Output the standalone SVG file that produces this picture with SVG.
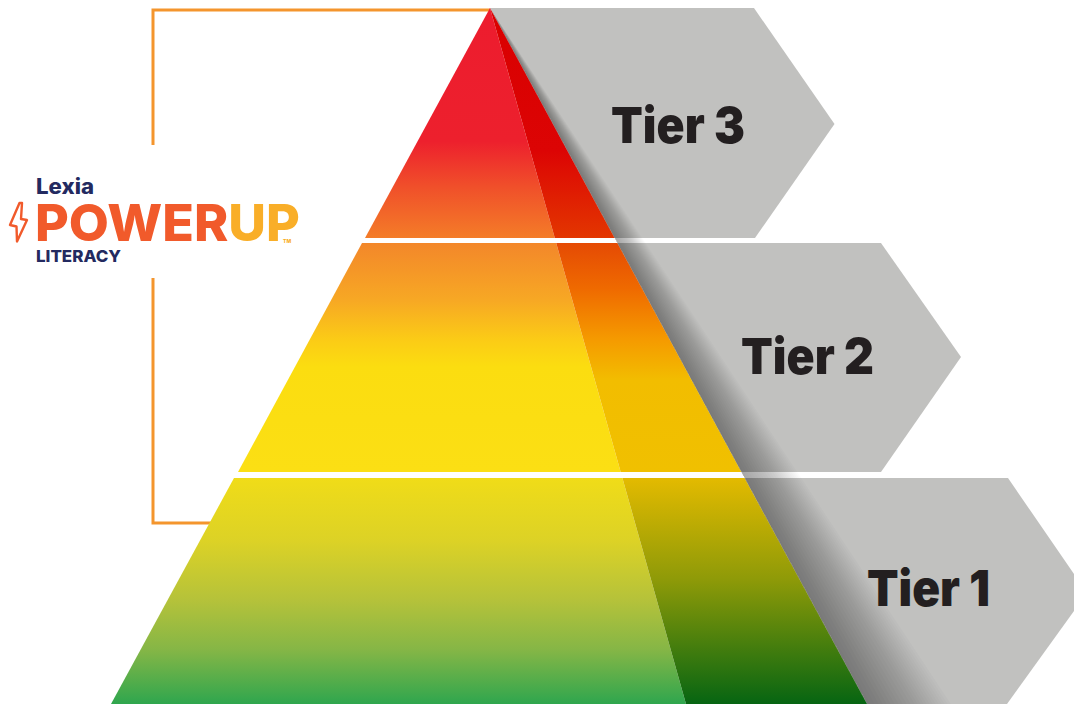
<svg xmlns="http://www.w3.org/2000/svg" width="1074" height="704" viewBox="0 0 1074 704">
<style>
.gray{fill:#c1c1bf}
.sh{fill:#000;fill-opacity:.016}
.tier{font-family:Inter,"Liberation Sans",sans-serif;font-weight:900;font-size:50px;fill:#231f20}
.logo{font-family:Inter,"Liberation Sans",sans-serif;font-weight:800}
.br{fill:none;stroke:#f4952d;stroke-width:3}
</style>
<defs>
<linearGradient id="a3" gradientUnits="userSpaceOnUse" x1="0" y1="8" x2="0" y2="238"><stop offset="0" stop-color="#ed1c2e"/><stop offset=".58" stop-color="#ed202d"/><stop offset=".78" stop-color="#f0502a"/><stop offset="1" stop-color="#f47c28"/></linearGradient>
<linearGradient id="d3" gradientUnits="userSpaceOnUse" x1="0" y1="8" x2="0" y2="238"><stop offset="0" stop-color="#d90000"/><stop offset=".62" stop-color="#dc0404"/><stop offset="1" stop-color="#e33600"/></linearGradient>
<linearGradient id="a2" gradientUnits="userSpaceOnUse" x1="0" y1="243" x2="0" y2="472"><stop offset="0" stop-color="#f3872a"/><stop offset=".25" stop-color="#f7a824"/><stop offset=".42" stop-color="#fbcb16"/><stop offset=".54" stop-color="#fbdd10"/><stop offset="1" stop-color="#fbdf14"/></linearGradient>
<linearGradient id="d2" gradientUnits="userSpaceOnUse" x1="0" y1="243" x2="0" y2="472"><stop offset="0" stop-color="#e54a04"/><stop offset=".2" stop-color="#ef6a00"/><stop offset=".42" stop-color="#f59a00"/><stop offset=".6" stop-color="#f2bd00"/><stop offset="1" stop-color="#f0c000"/></linearGradient>
<linearGradient id="a1" gradientUnits="userSpaceOnUse" x1="0" y1="478" x2="0" y2="704"><stop offset="0" stop-color="#f0dc18"/><stop offset=".28" stop-color="#dcd226"/><stop offset=".54" stop-color="#b5c23a"/><stop offset=".76" stop-color="#85b646"/><stop offset="1" stop-color="#2fa64e"/></linearGradient>
<linearGradient id="d1" gradientUnits="userSpaceOnUse" x1="0" y1="478" x2="0" y2="704"><stop offset="0" stop-color="#e3ba00"/><stop offset=".45" stop-color="#8e9a08"/><stop offset="1" stop-color="#066512"/></linearGradient>
</defs>
<g id="bracket" class="connectors">
<path class="br" d="M490 10H153V145"/>
<path class="br" d="M153 278V523H215"/>
</g>
<g id="tier3"><polygon class="gray" points="490,8 754,8 834.500,124 755,238 610,238"/></g>
<g id="tier2"><polygon class="gray" points="612,243 881,243 961,357 881,472 738,472"/></g>
<g id="tier1"><polygon class="gray" points="740,478 1008,478 1087,593 1007,704 860,704"/></g>
<g id="shadow">
<polygon class="sh" points="490,8 867,704 871,704"/>
<polygon class="sh" points="490,8 867,704 875,704"/>
<polygon class="sh" points="490,8 867,704 879,704"/>
<polygon class="sh" points="490,8 867,704 883,704"/>
<polygon class="sh" points="490,8 867,704 887,704"/>
<polygon class="sh" points="490,8 867,704 891,704"/>
<polygon class="sh" points="490,8 867,704 895,704"/>
<polygon class="sh" points="490,8 867,704 899,704"/>
<polygon class="sh" points="490,8 867,704 903,704"/>
<polygon class="sh" points="490,8 867,704 907,704"/>
<polygon class="sh" points="490,8 867,704 911,704"/>
<polygon class="sh" points="490,8 867,704 915,704"/>
<polygon class="sh" points="490,8 867,704 918,704"/>
<polygon class="sh" points="490,8 867,704 921,704"/>
<polygon class="sh" points="490,8 867,704 924,704"/>
<polygon class="sh" points="490,8 867,704 927,704"/>
<polygon class="sh" points="490,8 867,704 930,704"/>
<polygon class="sh" points="490,8 867,704 933,704"/>
<polygon class="sh" points="490,8 867,704 936,704"/>
<polygon class="sh" points="490,8 867,704 939,704"/>
<polygon class="sh" points="490,8 867,704 942,704"/>
<polygon class="sh" points="490,8 867,704 945,704"/>
<polygon class="sh" points="490,8 867,704 948,704"/>
<polygon class="sh" points="490,8 867,704 951,704"/>
</g>
<g id="pyramid-top">
<polygon fill="url(#a3)" points="490,8 554.8,238 365,238"/>
<polygon fill="url(#d3)" points="490,8 614.6,238 554.8,238"/>
</g>
<g id="pyramid-middle">
<polygon fill="url(#a2)" points="362,243 556.2,243 620.7,472 238,472"/>
<polygon fill="url(#d2)" points="556.2,243 617.3,243 741.3,472 620.7,472"/>
</g>
<g id="pyramid-bottom">
<polygon fill="url(#a1)" points="234,478 622.4,478 686,704 111,704"/>
<polygon fill="url(#d1)" points="622.4,478 744.5,478 867,704 686,704"/>
</g>
<g id="labels">
<text class="tier" x="611" y="143" textLength="134" lengthAdjust="spacingAndGlyphs">Tier 3</text>
<text class="tier" x="741" y="374" textLength="133" lengthAdjust="spacingAndGlyphs">Tier 2</text>
<text class="tier" x="867" y="606" textLength="123" lengthAdjust="spacingAndGlyphs">Tier 1</text>
</g>
<g id="logo">
<path d="M19.500 203L10 225L16.500 226.500L17 241.500L27 220L21 219L22 203Z" fill="none" stroke="#f15a2b" stroke-width="2.400" stroke-linejoin="round"/>
<text class="logo" x="36" y="194" font-size="21" font-weight="800" fill="#232a60" textLength="58" lengthAdjust="spacingAndGlyphs">Lexia</text>
<text class="logo" x="35" y="241" font-size="51" font-weight="900" textLength="265" lengthAdjust="spacingAndGlyphs"><tspan fill="#f15a2b">POWER</tspan><tspan fill="#f9ae28">UP</tspan></text>
<text class="logo" x="283" y="243" font-size="5" font-weight="400" fill="#f9ae28">TM</text>
<text class="logo" x="36" y="262" font-size="16" fill="#232a60" textLength="85" lengthAdjust="spacingAndGlyphs">LITERACY</text>
</g>
</svg>
